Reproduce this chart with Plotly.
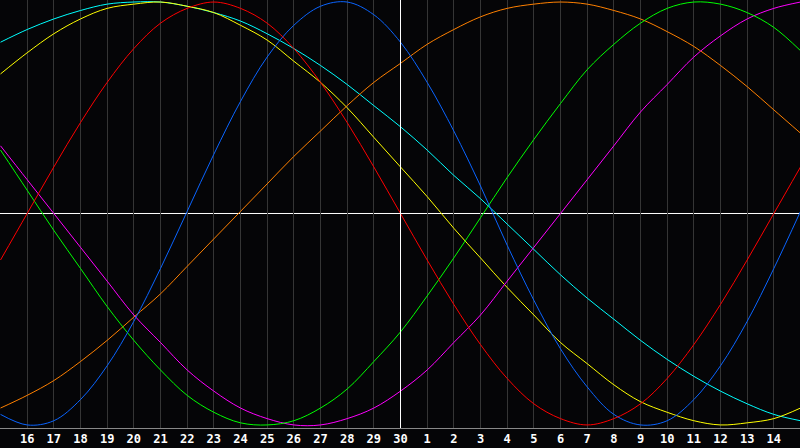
import plotly.graph_objects as go

# day positions (0 .. 30) and labels under the grid lines
days = list(range(0, 31))
tick_pos = list(range(1, 30))
tick_labels = ["16", "17", "18", "19", "20", "21", "22", "23", "24", "25", "26", "27", "28", "29", "30",
               "1", "2", "3", "4", "5", "6", "7", "8", "9", "10", "11", "12", "13", "14"]

# cycle values in percent (one value per day)
red = [-22, 0, 22, 43, 62, 78, 90, 97, 100, 97, 90, 78, 62, 43, 22, 0,
       -22, -43, -62, -78, -90, -97, -100, -97, -90, -78, -62, -43, -22, 0, 22]
blue = [-95, -100, -98, -88, -72, -51, -26, 1, 28, 53, 74, 89, 98, 100, 94, 81,
        62, 39, 13, -15, -41, -64, -82, -95, -100, -98, -88, -72, -51, -26, 1]
green = [30, 11, -8, -26, -44, -60, -74, -86, -94, -99, -100, -98, -92, -83, -70, -56,
         -39, -21, -2, 17, 35, 52, 68, 80, 90, 97, 100, 99, 95, 88, 77]
magenta = [32, 16, 0, -16, -32, -48, -61, -74, -84, -92, -97, -100, -100, -97, -92, -84,
           -74, -61, -48, -32, -16, 0, 16, 32, 48, 61, 74, 84, 92, 97, 100]
orange = [-92, -86, -79, -70, -60, -49, -38, -25, -12, 1, 14, 27, 39, 51, 62, 71,
          80, 87, 93, 97, 99, 100, 99, 96, 92, 86, 79, 70, 60, 49, 38]
yellow = [66, 76, 85, 92, 97, 99, 100, 98, 95, 89, 82, 72, 62, 50, 36, 22,
          8, -7, -21, -35, -48, -61, -71, -81, -89, -94, -98, -100, -99, -97, -92]
cyan = [81, 87, 92, 96, 99, 100, 100, 98, 95, 91, 85, 78, 70, 61, 51, 41,
        30, 18, 7, -5, -17, -29, -40, -50, -60, -69, -77, -84, -90, -95, -98]

series = [
    ("cyan", cyan, "#00ffff"),
    ("yellow", yellow, "#ffff00"),
    ("orange", orange, "#ff8000"),
    ("magenta", magenta, "#ff00ff"),
    ("green", green, "#00ff00"),
    ("blue", blue, "#0a64ff"),
    ("red", red, "#ff0000"),
]

fig = go.Figure()
for name, vals, col in series:
    fig.add_trace(go.Scatter(
        x=days, y=vals, mode="lines", name=name,
        line=dict(color=col, width=1, shape="spline", smoothing=1),
        hoverinfo="skip", showlegend=False,
    ))

# white centre cross
fig.add_shape(type="line", xref="x", yref="paper", x0=15, x1=15, y0=0, y1=1,
              line=dict(color="#ffffff", width=1), layer="above")
fig.add_shape(type="line", xref="paper", yref="y", x0=0, x1=1, y0=0, y1=0,
              line=dict(color="#ffffff", width=1), layer="between")

fig.update_layout(
    width=800, height=448,
    margin=dict(l=0, r=0, t=0, b=20, autoexpand=False),
    paper_bgcolor="#050507", plot_bgcolor="#050507",
    showlegend=False,
    xaxis=dict(
        range=[-0.01875, 29.98125], showgrid=True, gridcolor="#353535", gridwidth=1,
        tickmode="array", tickvals=tick_pos, ticktext=tick_labels,
        tickfont=dict(family="DejaVu Sans Mono", size=12, color="#ffffff", weight="bold"),
        ticks="", zeroline=False, showline=True, linecolor="#888888", linewidth=1,
        mirror=True, fixedrange=True,
    ),
    yaxis=dict(
        range=[-101.44, 100.96], showgrid=False, zeroline=False, showticklabels=False,
        ticks="", showline=True, linecolor="#888888", linewidth=1, fixedrange=True,
    ),
)

fig.write_html("out.html", config={"displayModeBar": False},
               post_script="document.body.style.margin='0px';document.body.style.overflow='hidden';")
